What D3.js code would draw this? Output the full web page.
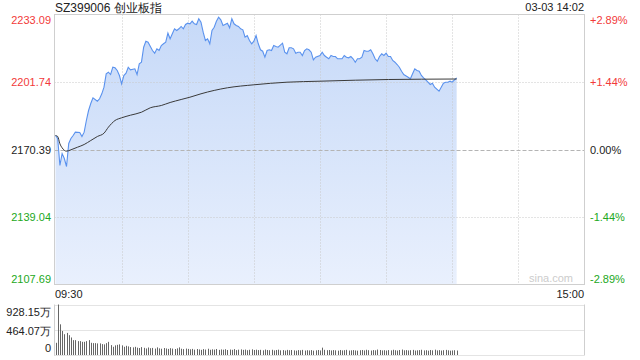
<!DOCTYPE html>
<html><head><meta charset="utf-8">
<script src="https://cdn.jsdelivr.net/npm/d3@7"></script>
<style>html,body{margin:0;padding:0;background:#fff;}svg{display:block;font-family:"Liberation Sans",Arial,sans-serif;}</style>
</head><body>
<script>
const title = "SZ399006 创业板指";
const stamp = "03-03 14:02";
const prevClose = 2170.39;
const priceTicks = [2233.09, 2201.74, 2170.39, 2139.04, 2107.69];
const pctTicks = ["+2.89%", "+1.44%", "0.00%", "-1.44%", "-2.89%"];
const timeLabels = ["09:30", "15:00"];
const volTicks = [928.15, 464.07, 0];
const volTickLabels = ["928.15万", "464.07万", "0"];

const priceMin = [0,1,2,3,4,5,6,7,8,9,11,12,13,14,15,16,17,19,20,21,22,23,24,25,26,27,28,29,30,31,32,33,34,36,37,38,39,40,41,42,44,45,46,47,48,49,50,51,52,53,54,55,56,57,58,59,60,61,
62,63,64,65,66,67,68,69,70,71,72,73,74,75,76,78,79,80,81,82,83,84,85,86,87,88,89,90,91,92,93,94,95,96,97,98,99,100,101,103,104,105,106,107,108,109,110,111,112,113,114,115,116,117,118,120,121,122,
123,124,125,126,127,128,130,131,132,133,134,135,136,137,138,139,140,141,142,143,144,145,146,147,148,149,150,151,152,153,154,155,156,157,158,160,161,162,163,164,165,166,167,168,169,170,171,172,174,175,176,177,178,179,180,181,182];
const priceVal = [2176.89,2175.50,2162.96,2168.53,2166.21,2162.50,2173.18,2175.50,2176.89,2178.43,2178.29,2176.43,2178.43,2183.86,2188.50,2191.75,2194.40,2192.82,2193.94,2196.26,2199.33,2205.55,2206.29,2205.22,2208.61,2208.34,2207.08,2204.76,2200.90,2204.76,2205.83,2208.61,2207.41,2207.87,2205.22,2210.19,2210.94,2217.90,2220.69,2220.23,2216.37,2215.12,2217.16,2216.37,2218.69,2219.48,2220.23,2224.41,2221.80,2224.13,2226.45,2225.66,2226.45,2227.52,2226.45,2228.45,2229.05,2228.77,
2229.98,2228.77,2228.45,2231.09,2229.51,2224.87,2221.01,2221.80,2219.48,2225.66,2227.19,2229.98,2231.84,2230.63,2227.98,2229.05,2226.91,2231.09,2228.77,2227.98,2227.52,2226.45,2225.98,2222.55,2223.34,2221.01,2219.48,2220.69,2223.34,2219.48,2216.70,2216.04,2213.26,2216.37,2216.70,2216.37,2218.69,2218.23,2217.90,2219.76,2215.58,2214.84,2217.62,2217.62,2217.16,2215.12,2215.58,2215.58,2214.05,2216.37,2217.16,2216.70,2215.58,2212.05,2213.26,2214.05,2215.58,2214.05,
2213.26,2212.52,2214.05,2213.58,2213.58,2212.52,2212.52,2214.05,2213.26,2212.98,2213.58,2212.52,2210.94,2212.52,2212.52,2213.26,2216.37,2216.04,2216.04,2216.70,2214.84,2212.52,2211.40,2213.58,2214.84,2214.05,2215.12,2213.58,2213.58,2211.73,2210.94,2209.87,2208.61,2206.76,2205.22,2203.97,2203.23,2205.55,2207.87,2207.08,2206.76,2204.76,2203.69,2202.76,2201.65,2200.58,2201.18,2199.33,2197.47,2199.33,2201.18,2201.65,2201.65,2202.11,2201.65,2202.76,2203.69];

const avgMin = [0,1,2,3,5,7,10,13,16,19,22,24,27,30,34,39,43,48,52,57,61,66,78,90,105,120,136,151,166,182];
const avgVal = [2176.89,2176.43,2173.04,2171.18,2169.60,2170.25,2171.46,2172.71,2174.57,2176.43,2177.96,2180.75,2183.86,2185.11,2186.32,2187.71,2189.76,2190.83,2192.22,2193.61,2194.68,2196.26,2199.05,2200.44,2201.65,2202.11,2202.58,2202.90,2203.04,2203.13];

const volume = [224,928,564,442,382,406,364,322,273,273,255,255,242,242,255,273,224,218,218,213,213,200,195,218,242,182,151,177,187,195,177,151,169,158,146,
140,150,135,128,145,132,120,138,125,130,118,140,122,115,128,120,112,125,118,110,122,140,115,108,118,112,
105,112,98,110,102,95,108,100,115,96,104,99,110,94,102,97,106,92,100,95,108,90,98,103,94,100,88,96,104,92,
98,90,95,86,100,92,88,96,84,92,98,86,90,82,94,88,92,85,80,90,86,94,82,88,84,90,80,86,92,84,
135,95,88,92,84,90,86,80,92,84,88,95,82,86,90,84,80,88,92,84,96,88,82,90,86,100,92,84,88,82,
90,85,96,88,82,92,100,86,90,84,88,94,82,86,90,96,84,88,80,92,86,98,84,90,82,88,94,86,80,84,88,82];

const W = 640, H = 360;
const svg = d3.select("body").append("svg").attr("width", W).attr("height", H);
const L = 54.5, R = 584.5, T = 14.5, B = 284.5;
const VT = 304.5, VB = 355.5;

const x = d3.scaleLinear().domain([0, 240]).range([55.5, 584.5]);
const y = d3.scaleLinear().domain([priceTicks[4], priceTicks[0]]).range([B, T]);
const yv = d3.scaleLinear().domain([0, volTicks[0]]).range([VB - 0.5, VT]);

const defs = svg.append("defs");
const grad = defs.append("linearGradient").attr("id", "fillg").attr("x1", 0).attr("y1", 0).attr("x2", 0).attr("y2", 1)
  .attr("gradientUnits", "userSpaceOnUse").attr("y1", T).attr("y2", B).attr("x1", 0).attr("x2", 0);
grad.append("stop").attr("offset", 0).attr("stop-color", "#c6d9f8");
grad.append("stop").attr("offset", 1).attr("stop-color", "#e9f0fd");

const priceData = priceMin.map((m, i) => ({m, v: priceVal[i]}));
const avgData = avgMin.map((m, i) => ({m, v: avgVal[i]}));

// area fill
svg.append("path").datum(priceData)
  .attr("d", d3.area().x(d => x(d.m)).y0(B).y1(d => y(d.v)))
  .attr("fill", "url(#fillg)");

// grid verticals
const gridMins = [30, 60, 90, 120, 150, 180, 210];
svg.append("g").selectAll("line").data(gridMins).join("line")
  .attr("x1", d => Math.round(x(d)) + 0.5).attr("x2", d => Math.round(x(d)) + 0.5)
  .attr("y1", T).attr("y2", B)
  .attr("stroke", "#c8c8c8").attr("stroke-dasharray", "1,2");
// grid horizontals
svg.append("g").selectAll("line").data(priceTicks.slice(1, 4)).join("line")
  .attr("x1", L).attr("x2", R)
  .attr("y1", d => Math.round(y(d)) + 0.5).attr("y2", d => Math.round(y(d)) + 0.5)
  .attr("stroke", d => d === prevClose ? "#b4b4b4" : "#c8c8c8")
  .attr("stroke-dasharray", d => d === prevClose ? "4,2" : "1,2");

// border
svg.append("rect").attr("x", L).attr("y", T).attr("width", R - L).attr("height", B - T)
  .attr("fill", "none").attr("stroke", "#cfcfcf");

// lines
svg.append("path").datum(priceData)
  .attr("d", d3.line().x(d => x(d.m)).y(d => y(d.v)))
  .attr("fill", "none").attr("stroke", "#5a92ee").attr("stroke-width", 1.1);
svg.append("path").datum(avgData)
  .attr("d", d3.line().curve(d3.curveMonotoneX).x(d => x(d.m)).y(d => y(d.v)))
  .attr("fill", "none").attr("stroke", "#3a3a3a").attr("stroke-width", 1);

// labels
const colorOf = i => i < 2 ? "#f23a3a" : (i === 2 ? "#222" : "#22a822");
svg.append("g").selectAll("text").data(priceTicks).join("text")
  .attr("x", 51).attr("y", (d, i) => i === 0 ? y(d) + 9 : (i === 4 ? y(d) - 2 : y(d) + 4))
  .attr("text-anchor", "end").attr("font-size", 11).attr("fill", (d, i) => colorOf(i))
  .text(d => d.toFixed(2));
svg.append("g").selectAll("text").data(pctTicks).join("text")
  .attr("x", 590).attr("y", (d, i) => i === 0 ? y(priceTicks[i]) + 9 : (i === 4 ? y(priceTicks[i]) - 2 : y(priceTicks[i]) + 4))
  .attr("text-anchor", "start").attr("font-size", 11).attr("fill", (d, i) => colorOf(i))
  .text(d => d);

svg.append("text").attr("x", 55).attr("y", 12).attr("font-size", 12).attr("fill", "#222").text(title);
svg.append("text").attr("x", 584).attr("y", 11).attr("font-size", 11).attr("text-anchor", "end").attr("fill", "#222").text(stamp);
svg.append("text").attr("x", 573).attr("y", 282).attr("font-size", 11).attr("text-anchor", "end").attr("fill", "#cccccc").text("sina.com");

svg.append("text").attr("x", 55).attr("y", 298).attr("font-size", 11).attr("fill", "#222").text(timeLabels[0]);
svg.append("text").attr("x", 584).attr("y", 298).attr("font-size", 11).attr("text-anchor", "end").attr("fill", "#222").text(timeLabels[1]);

// volume panel
svg.append("g").selectAll("line").data(volTicks).join("line")
  .attr("x1", L).attr("x2", R)
  .attr("y1", d => Math.round(yv(d)) + 0.5).attr("y2", d => Math.round(yv(d)) + 0.5)
  .attr("stroke", "#c8c8c8").attr("stroke-dasharray", "1,1");
svg.append("line").attr("x1", R).attr("x2", R).attr("y1", VT).attr("y2", VB).attr("stroke", "#cfcfcf");
svg.append("line").attr("x1", L).attr("x2", L).attr("y1", VT).attr("y2", VB).attr("stroke", "#cfcfcf");

svg.append("g").selectAll("line").data(volume).join("line")
  .attr("x1", (d, i) => Math.round(x(i)) + 0.5).attr("x2", (d, i) => Math.round(x(i)) + 0.5)
  .attr("y1", VB - 0.5).attr("y2", d => yv(d))
  .attr("stroke", "#666").attr("stroke-width", 1);

svg.append("g").selectAll("text").data(volTickLabels).join("text")
  .attr("x", 51).attr("y", (d, i) => [316, 335, 352][i])
  .attr("text-anchor", "end").attr("font-size", 11).attr("fill", "#222").text(d => d);
</script>
</body></html>
